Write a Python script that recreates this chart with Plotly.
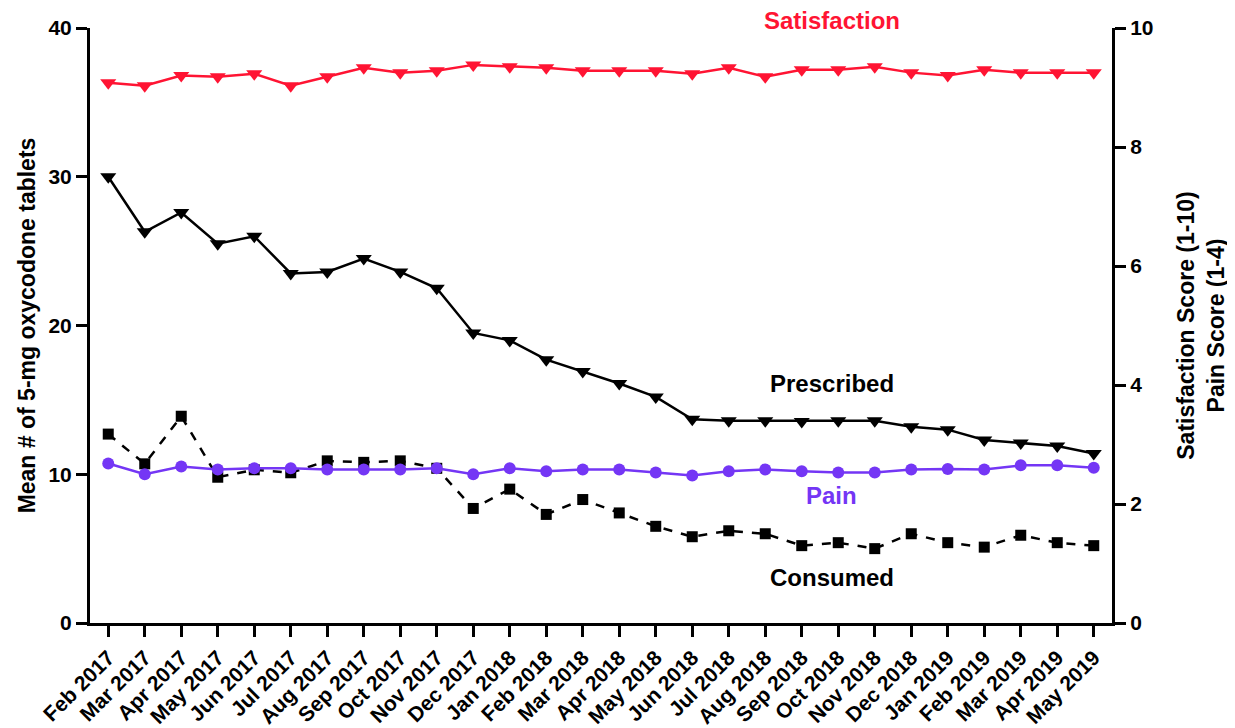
import plotly.graph_objects as go

months = ["Feb 2017", "Mar 2017", "Apr 2017", "May 2017", "Jun 2017", "Jul 2017", "Aug 2017",
          "Sep 2017", "Oct 2017", "Nov 2017", "Dec 2017", "Jan 2018", "Feb 2018", "Mar 2018",
          "Apr 2018", "May 2018", "Jun 2018", "Jul 2018", "Aug 2018", "Sep 2018", "Oct 2018",
          "Nov 2018", "Dec 2018", "Jan 2019", "Feb 2019", "Mar 2019", "Apr 2019", "May 2019"]

prescribed = [30.0, 26.3, 27.6, 25.5, 26.0, 23.5, 23.6, 24.5, 23.6, 22.5, 19.5, 19.0, 17.7, 16.9,
              16.1, 15.2, 13.7, 13.6, 13.6, 13.55, 13.6, 13.6, 13.2, 13.0, 12.3, 12.1, 11.9, 11.4]

consumed = [12.7, 10.7, 13.9, 9.8, 10.3, 10.1, 10.9, 10.8, 10.9, 10.4, 7.7, 9.0, 7.3, 8.3,
            7.4, 6.5, 5.8, 6.2, 6.0, 5.2, 5.4, 5.0, 6.0, 5.4, 5.1, 5.9, 5.4, 5.2]

satisfaction = [9.08, 9.03, 9.2, 9.18, 9.23, 9.03, 9.18, 9.33, 9.25, 9.28, 9.38, 9.35, 9.33, 9.28,
                9.28, 9.28, 9.23, 9.33, 9.18, 9.3, 9.3, 9.35, 9.25, 9.2, 9.3, 9.25, 9.25, 9.25]

pain = [2.68, 2.5, 2.63, 2.58, 2.6, 2.6, 2.58, 2.58, 2.58, 2.6, 2.5, 2.6, 2.55, 2.58,
        2.58, 2.53, 2.48, 2.55, 2.58, 2.55, 2.53, 2.53, 2.58, 2.59, 2.58, 2.65, 2.65, 2.61]

RED = "#FF1433"
PURPLE = "#7436F5"
BLACK = "#000000"
FONT = "Liberation Sans, Arial, sans-serif"

fig = go.Figure()

fig.add_trace(go.Scatter(x=months, y=consumed, mode="lines+markers", name="Consumed",
                         line=dict(color=BLACK, width=2.5, dash="dash"),
                         marker=dict(symbol="square", size=11, color=BLACK)))
fig.add_trace(go.Scatter(x=months, y=prescribed, mode="lines+markers", name="Prescribed",
                         line=dict(color=BLACK, width=2.5),
                         marker=dict(symbol="triangle-down", size=14, color=BLACK)))
fig.add_trace(go.Scatter(x=months, y=pain, mode="lines+markers", name="Pain", yaxis="y2",
                         line=dict(color=PURPLE, width=2.5),
                         marker=dict(symbol="circle", size=12, color=PURPLE)))
fig.add_trace(go.Scatter(x=months, y=satisfaction, mode="lines+markers", name="Satisfaction", yaxis="y2",
                         line=dict(color=RED, width=2.5),
                         marker=dict(symbol="triangle-down", size=14, color=RED)))

axis_common = dict(showgrid=False, zeroline=False, showline=True, linecolor=BLACK, linewidth=3,
                   ticks="outside", ticklen=11, tickwidth=3, tickcolor=BLACK, automargin=False,
                   tickfont=dict(family=FONT, size=21, color=BLACK, weight="bold"))

fig.update_layout(
    width=1227, height=720,
    margin=dict(l=82, r=123, t=20, b=105),
    paper_bgcolor="white", plot_bgcolor="white",
    showlegend=False,
    font=dict(family=FONT, color=BLACK, weight="bold"),
    xaxis=dict(**axis_common, tickangle=-45, type="category", range=[-0.5, 27.5]),
    yaxis=dict(**axis_common, range=[0, 40], dtick=10,
               title=dict(text="Mean # of 5-mg oxycodone tablets",
                          font=dict(family=FONT, size=23, color=BLACK, weight="bold"), standoff=7)),
    yaxis2=dict(**axis_common, range=[0, 10], dtick=2, overlaying="y", side="right",
                title=dict(text="Satisfaction Score (1-10)<br>Pain Score (1-4)",
                           font=dict(family=FONT, size=23, color=BLACK, weight="bold"), standoff=26)),
)

ann_font = dict(family=FONT, size=24, weight="bold")
for text, y, color in [("Satisfaction", 1.013, RED), ("Prescribed", 0.403, BLACK),
                       ("Pain", 0.215, PURPLE), ("Consumed", 0.077, BLACK)]:
    fig.add_annotation(text=text, x=0.726, y=y, xref="paper", yref="paper", showarrow=False,
                       xanchor="center", yanchor="middle",
                       font=dict(**ann_font, color=color))

fig.write_html("out.html")
